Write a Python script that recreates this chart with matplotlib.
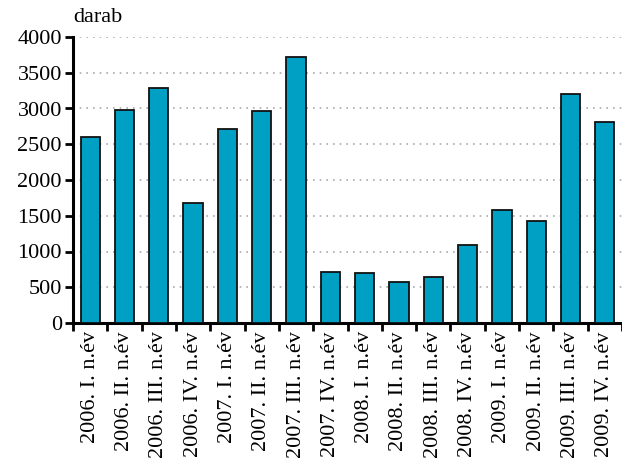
import matplotlib
matplotlib.use("Agg")
import matplotlib.pyplot as plt
import numpy as np

categories = ["2006. I. n.év", "2006. II. n.év", "2006. III. n.év", "2006. IV. n.év",
              "2007. I. n.év", "2007. II. n.év", "2007. III. n.év", "2007. IV. n.év",
              "2008. I. n.év", "2008. II. n.év", "2008. III. n.év", "2008. IV. n.év",
              "2009. I. n.év", "2009. II. n.év", "2009. III. n.év", "2009. IV. n.év"]
values = [2600, 2980, 3280, 1680, 2720, 2960, 3720, 720,
          700, 580, 650, 1090, 1580, 1420, 3200, 2810]
yticks = [0, 500, 1000, 1500, 2000, 2500, 3000, 3500, 4000]
unit_label = "darab"

plt.rcParams['font.family'] = ['Liberation Serif', 'DejaVu Serif']
fig = plt.figure(figsize=(6.22, 4.61), dpi=100)
ax = fig.add_axes([73/622, 1-323/461, 1-73/622, (323-37)/461])

x = np.arange(len(categories))
ax.bar(x, values, width=0.56, color="#009fc4", edgecolor="#111111", linewidth=1.3, zorder=3)

ax.set_xlim(-0.5, len(categories)-0.5)
ax.set_ylim(0, 4000)
ax.set_yticks(yticks)
ax.set_yticklabels([str(v) for v in yticks], fontsize=16)
for v in yticks[1:]:
    ax.axhline(v, color="#aaaaaa", linestyle=(0, (1, 3)), linewidth=1.2, zorder=1)

ax.set_xticks(x)
ax.set_xticklabels(categories, rotation=90, fontsize=16)
ax.tick_params(axis='x', which='major', length=0, pad=6)
ax.set_xticks(np.arange(-0.5, len(categories), 1.0), minor=True)
ax.tick_params(axis='x', which='minor', length=6, width=2, direction='out')
ax.tick_params(axis='y', length=6, width=2, direction='out', pad=2)

for s in ['top', 'right']:
    ax.spines[s].set_visible(False)
for s in ['left', 'bottom']:
    ax.spines[s].set_linewidth(2.2)

fig.text(73/622, 1-18/461, unit_label, fontsize=16, ha='left', va='center')

fig.savefig("out.png", dpi=100)
